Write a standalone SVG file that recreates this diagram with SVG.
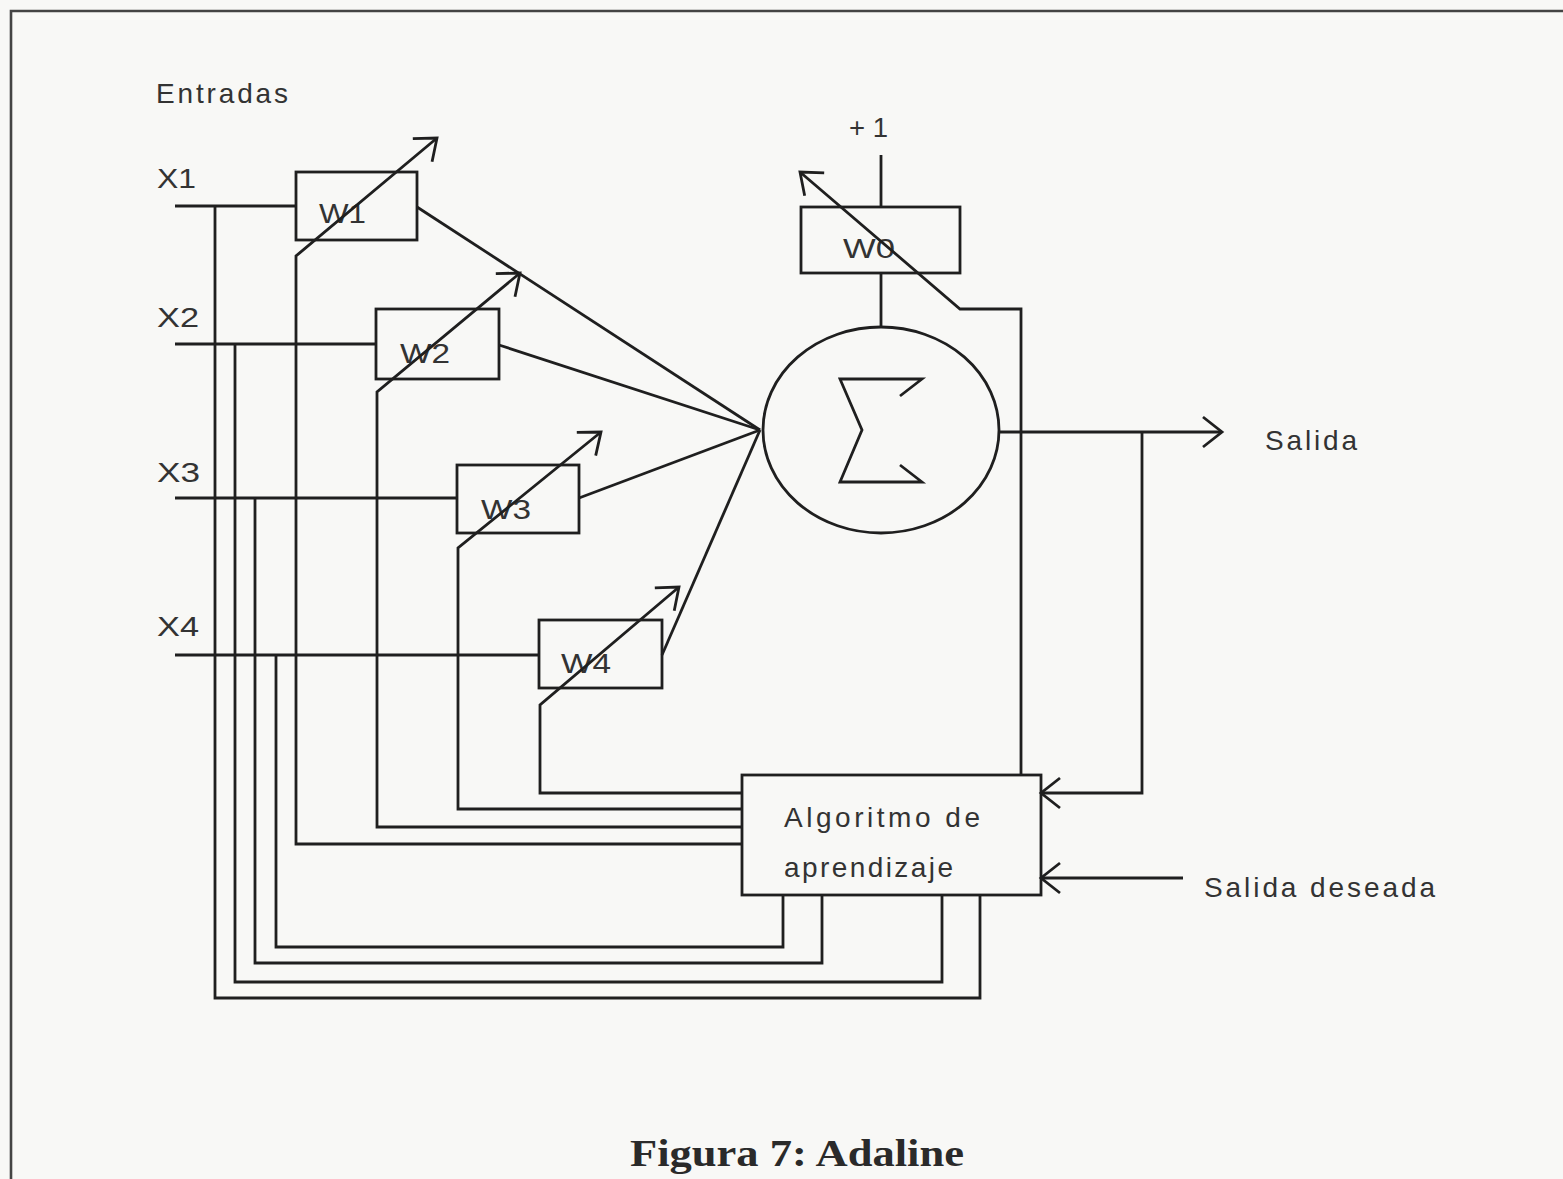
<svg xmlns="http://www.w3.org/2000/svg" width="1563" height="1179" viewBox="0 0 1563 1179">
<style>
.ln{fill:none;stroke:#1f1f1f;stroke-width:2.8;stroke-linejoin:miter}
.bx{fill:none;stroke:#1f1f1f;stroke-width:2.8}
.t{font-family:"Liberation Sans",Arial,sans-serif;font-size:28px;fill:#333}
.cap{font-family:"Liberation Serif","Times New Roman",serif;font-weight:bold;font-size:38px;fill:#2a2a2a}
</style>
<defs>
<marker id="ah" markerUnits="userSpaceOnUse" markerWidth="40" markerHeight="40" viewBox="-25 -20 30 40" refX="0" refY="0" orient="auto" overflow="visible">
<path d="M-19,-15 L0,0 L-19,15" fill="none" stroke="#1f1f1f" stroke-width="2.8"/>
</marker>
</defs>
<rect x="0" y="0" width="1563" height="1179" fill="#f8f8f6"/>
<path d="M11,1179 V11 H1563" fill="none" stroke="#444" stroke-width="2.6"/>

<g id="labels">
<text class="t" x="156" y="103" textLength="132" lengthAdjust="spacing">Entradas</text>
<text class="t" x="157" y="188" font-size="31" textLength="39" lengthAdjust="spacingAndGlyphs">X1</text>
<text class="t" x="157" y="327" font-size="31" textLength="42" lengthAdjust="spacingAndGlyphs">X2</text>
<text class="t" x="157" y="482" font-size="31" textLength="43" lengthAdjust="spacingAndGlyphs">X3</text>
<text class="t" x="157" y="636" font-size="31" textLength="42" lengthAdjust="spacingAndGlyphs">X4</text>
<text class="t" x="849" y="137" font-size="28" textLength="39" lengthAdjust="spacingAndGlyphs">+ 1</text>
<text class="t" x="1265" y="450" font-size="29" textLength="92" lengthAdjust="spacing">Salida</text>
<text class="t" x="1204" y="897" textLength="231" lengthAdjust="spacing">Salida deseada</text>
</g>

<g id="connectors">
<path class="ln" d="M175,206 H296"/>
<path class="ln" d="M175,344 H376"/>
<path class="ln" d="M175,498 H457"/>
<path class="ln" d="M175,655 H539"/>
<path class="ln" d="M215,206 V998 H980 V895"/>
<path class="ln" d="M235,344 V982 H942 V895"/>
<path class="ln" d="M255,498 V963 H822 V895"/>
<path class="ln" d="M276,655 V947 H783 V895"/>
<path class="ln" d="M417,207 L760,430"/>
<path class="ln" d="M499,345 L760,430"/>
<path class="ln" d="M579,498 L760,430"/>
<path class="ln" d="M662,655 L760,430"/>
<path class="ln" d="M881,155 V207"/>
<path class="ln" d="M881,273 V327"/>
<path class="ln" d="M1000,432 H1222" marker-end="url(#ah)"/>
<path class="ln" d="M1142,432 V793 H1041" marker-end="url(#ah)"/>
<path class="ln" d="M1183,878 H1041" marker-end="url(#ah)"/>
</g>

<g id="W1">
<rect class="bx" x="296" y="172" width="121" height="68"/>
<text class="t" x="319" y="223" font-size="31" textLength="47" lengthAdjust="spacingAndGlyphs">W1</text>
</g>
<g id="W2">
<rect class="bx" x="376" y="309" width="123" height="70"/>
<text class="t" x="400" y="363" font-size="31" textLength="50" lengthAdjust="spacingAndGlyphs">W2</text>
</g>
<g id="W3">
<rect class="bx" x="457" y="465" width="122" height="68"/>
<text class="t" x="481" y="519" font-size="31" textLength="50" lengthAdjust="spacingAndGlyphs">W3</text>
</g>
<g id="W4">
<rect class="bx" x="539" y="620" width="123" height="68"/>
<text class="t" x="561" y="673" font-size="31" textLength="50" lengthAdjust="spacingAndGlyphs">W4</text>
</g>
<g id="W0">
<rect class="bx" x="801" y="207" width="159" height="66"/>
<text class="t" x="843" y="258" font-size="31" textLength="52" lengthAdjust="spacingAndGlyphs">W0</text>
</g>
<g id="sum">
<ellipse class="bx" cx="881" cy="430" rx="118" ry="103"/>
<path class="ln" d="M900,396 L922,379 H840 L862,430 L840,482 H922 L900,465" stroke-width="3.2"/>
</g>
<g id="algoritmo">
<rect class="bx" x="742" y="775" width="299" height="120"/>
<text class="t" x="784" y="827" textLength="196" lengthAdjust="spacing">Algoritmo de</text>
<text class="t" x="784" y="877" textLength="169" lengthAdjust="spacing">aprendizaje</text>
</g>

<g id="adjust-arrows">
<path class="ln" d="M742,844 H296 V256 L437,138" marker-end="url(#ah)"/>
<path class="ln" d="M742,827 H377 V392 L520,273" marker-end="url(#ah)"/>
<path class="ln" d="M742,809 H458 V548 L601,432" marker-end="url(#ah)"/>
<path class="ln" d="M742,793 H540 V705 L679,587" marker-end="url(#ah)"/>
<path class="ln" d="M1021,775 V309 H960 L800,172" marker-end="url(#ah)"/>
</g>

<text class="cap" x="630" y="1166" textLength="334" lengthAdjust="spacingAndGlyphs">Figura 7: Adaline</text>
</svg>
